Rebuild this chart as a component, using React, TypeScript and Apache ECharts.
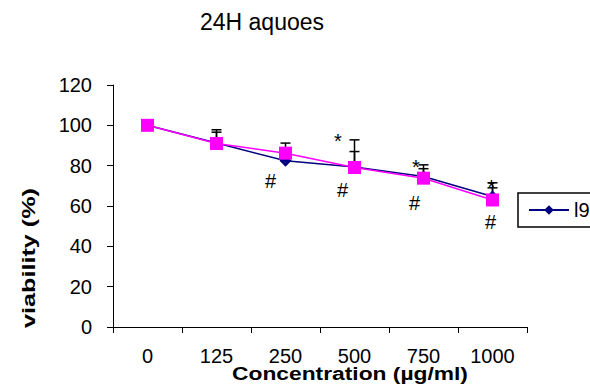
import React, { useEffect, useRef } from "react";
import * as echarts from "echarts";

const categories = ["0", "125", "250", "500", "750", "1000"];
const l9Values = [100, 91.2, 82.4, 79.3, 74.6, 64.7];
const aquoesValues = [100, 91.0, 86.2, 79.1, 73.8, 63.0];
const l9Errors = [0, 6.6, 8.8, 13.5, 5.8, 6.8];
const aquoesErrors = [0, 5.6, 0, 7.9, 4.7, 6.0];
const starMarks = [null, null, null, 94.5, 81.7, 71.7];
const hashMarks = [null, null, 72.3, 68.0, 61.4, 52.3];
const starDx = [0, 0, 0, -16.5, -7.6, -1];
const hashDx = [0, 0, -15, -12, -9, -2];

const FONT = "'Liberation Sans', Arial, Helvetica, sans-serif";

function errorRender(errs: number[]) {
  return (params: any, api: any) => {
    const i = api.value(0);
    const v = api.value(1);
    const e = api.value(2);
    if (!e) return null;
    const p0 = api.coord([i, v]);
    const p1 = api.coord([i, v + e]);
    const w = 5;
    return {
      type: "group",
      children: [
        { type: "line", shape: { x1: p0[0], y1: p0[1], x2: p1[0], y2: p1[1] }, style: { stroke: "#000", lineWidth: 1.5 } },
        { type: "line", shape: { x1: p1[0] - w, y1: p1[1], x2: p1[0] + w, y2: p1[1] }, style: { stroke: "#000", lineWidth: 1.5 } },
      ],
    };
  };
}

function markRender(text: string, dxs: number[], dyAdj: number) {
  return (params: any, api: any) => {
    const i = api.value(0);
    const v = api.value(1);
    const p = api.coord([i, v]);
    return {
      type: "text",
      x: p[0] + dxs[i],
      y: p[1] + dyAdj,
      style: {
        text,
        fontSize: 20,
        fontFamily: FONT,
        fill: "#000",
        align: "center",
        verticalAlign: "middle",
        textAlign: "center",
        textVerticalAlign: "middle",
      },
    };
  };
}

export default function App() {
  const ref = useRef<HTMLDivElement>(null);
  useEffect(() => {
    if (!ref.current) return;
    const chart = echarts.init(ref.current, undefined, { renderer: "svg" });
    const starData = starMarks
      .map((v, i) => (v == null ? null : [i, v]))
      .filter((d) => d != null);
    const hashData = hashMarks
      .map((v, i) => (v == null ? null : [i, v]))
      .filter((d) => d != null);
    chart.setOption({
      animation: false,
      backgroundColor: "#fff",
      title: {
        text: "24H aquoes",
        left: 262,
        textAlign: "center",
        top: 10,
        padding: 0,
        textStyle: { fontSize: 23, fontWeight: "normal", color: "#000", fontFamily: FONT },
      },
      legend: {
        data: ["l9"],
        left: 518,
        top: 193,
        padding: [7, 20, 7, 10],
        borderColor: "#000",
        borderWidth: 1.5,
        itemWidth: 40,
        itemHeight: 12,
        textStyle: { fontSize: 20, color: "#000", fontFamily: FONT },
      },
      grid: { left: 113, top: 85, width: 414, height: 242, containLabel: false },
      xAxis: {
        type: "category",
        data: categories,
        boundaryGap: true,
        axisLine: { lineStyle: { color: "#000", width: 1 } },
        axisTick: { show: true, length: 6, lineStyle: { color: "#000" } },
        axisLabel: { fontSize: 20, color: "#000", fontFamily: FONT, margin: 19, interval: 0 },
        splitLine: { show: false },
      },
      yAxis: {
        type: "value",
        min: 0,
        max: 120,
        interval: 20,
        axisLine: { show: true, lineStyle: { color: "#000", width: 1 } },
        axisTick: { show: true, length: 6, lineStyle: { color: "#000" } },
        axisLabel: { fontSize: 20, color: "#000", fontFamily: FONT, margin: 21, padding: [6, 0, 0, 0] },
        splitLine: { show: false },
      },
      graphic: [
        {
          type: "text",
          x: 350,
          y: 373,
          scaleX: 1.2,
          style: {
            text: "Concentration (µg/ml)",
            fontSize: 19,
            fontWeight: "bold",
            fontFamily: FONT,
            fill: "#000",
            align: "center",
            verticalAlign: "middle",
            textAlign: "center",
            textVerticalAlign: "middle",
          },
        },
        {
          type: "text",
          x: 29,
          y: 258,
          rotation: Math.PI / 2,
          scaleX: 1.4,
          style: {
            text: "viability (%)",
            fontSize: 18,
            fontWeight: "bold",
            fontFamily: FONT,
            fill: "#000",
            align: "center",
            verticalAlign: "middle",
            textAlign: "center",
            textVerticalAlign: "middle",
          },
        },
      ],
      series: [
        {
          name: "l9 error",
          type: "custom",
          renderItem: errorRender(l9Errors),
          data: l9Values.map((v, i) => [i, v, l9Errors[i]]),
          encode: { x: 0, y: 1 },
          z: 1,
          silent: true,
        },
        {
          name: "aquoes error",
          type: "custom",
          renderItem: errorRender(aquoesErrors),
          data: aquoesValues.map((v, i) => [i, v, aquoesErrors[i]]),
          encode: { x: 0, y: 1 },
          z: 1,
          silent: true,
        },
        {
          name: "l9",
          type: "line",
          data: l9Values,
          color: "#000080",
          symbol: "diamond",
          symbolSize: 12,
          lineStyle: { color: "#000080", width: 1.5 },
          itemStyle: { color: "#000080" },
          z: 3,
        },
        {
          name: "aquoes",
          type: "line",
          data: aquoesValues,
          color: "#FF00FF",
          symbol: "rect",
          symbolSize: 13,
          lineStyle: { color: "#FF00FF", width: 1.5 },
          itemStyle: { color: "#FF00FF" },
          z: 4,
        },
        {
          name: "star marks",
          type: "custom",
          renderItem: markRender("*", starDx, 5),
          data: starData,
          encode: { x: 0, y: 1 },
          z: 5,
          silent: true,
        },
        {
          name: "hash marks",
          type: "custom",
          renderItem: markRender("#", hashDx, 0),
          data: hashData,
          encode: { x: 0, y: 1 },
          z: 5,
          silent: true,
        },
      ],
    });
    return () => chart.dispose();
  }, []);
  return (
    <div
      ref={ref}
      style={{ position: "absolute", left: 0, top: 0, width: 590, height: 385, background: "#fff" }}
    />
  );
}
